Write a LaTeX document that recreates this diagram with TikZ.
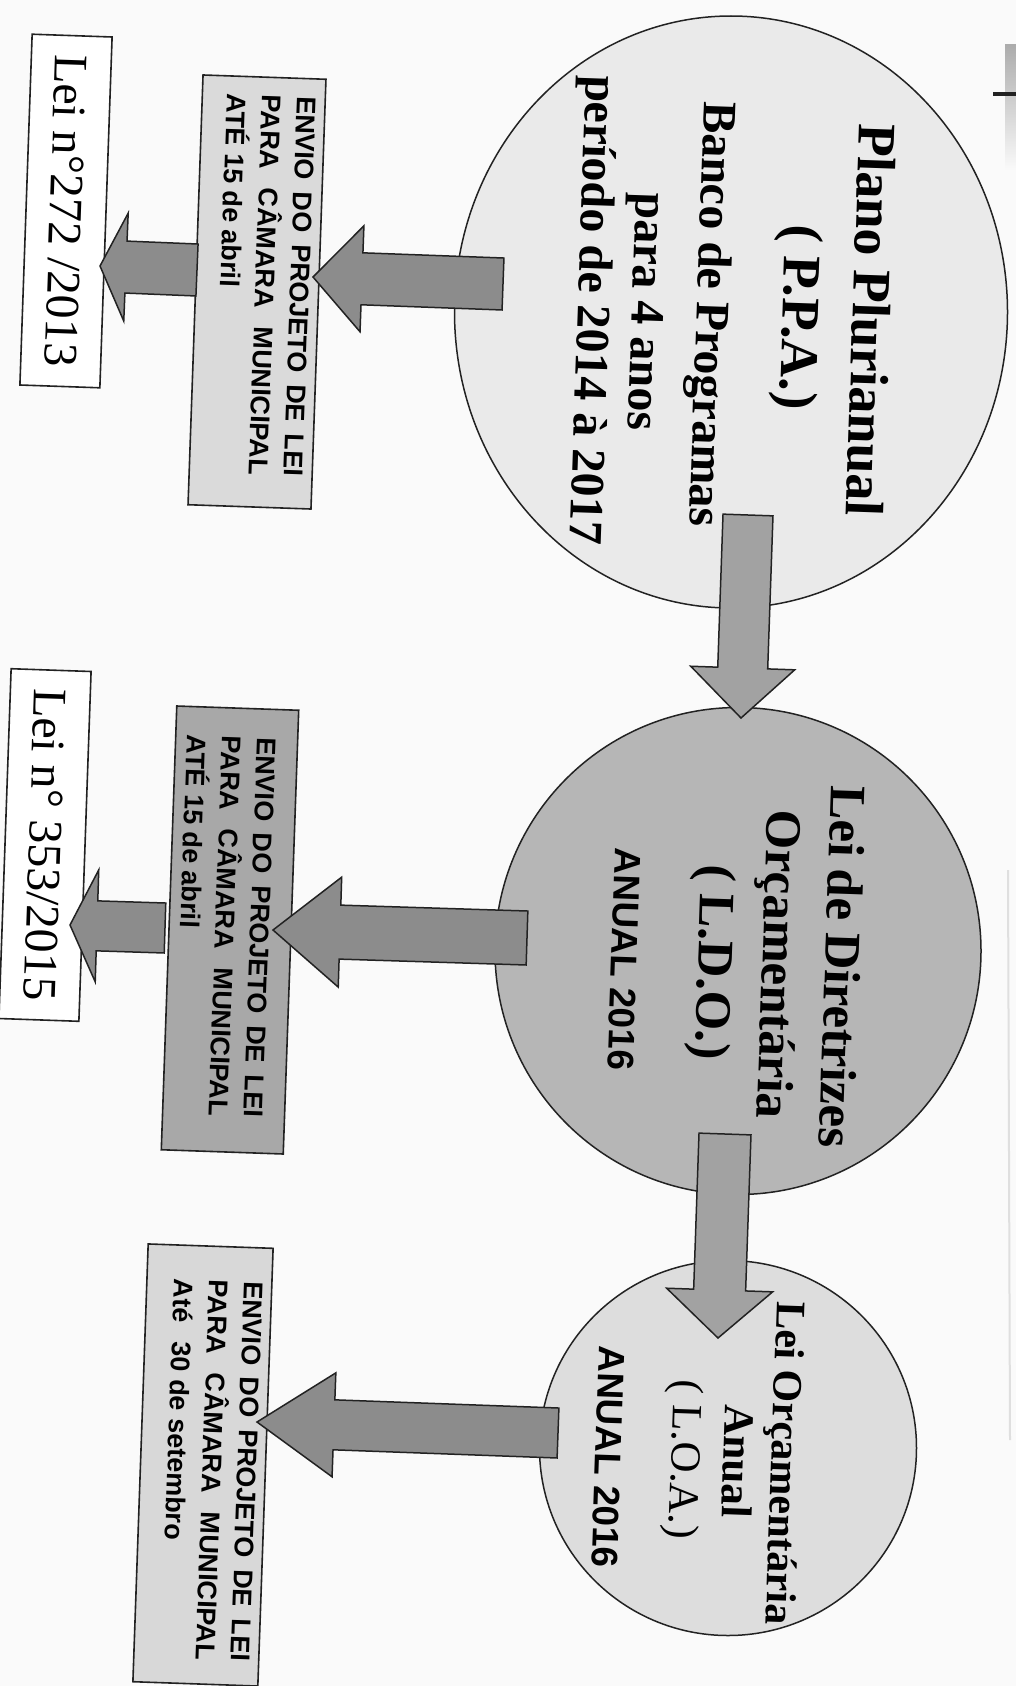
\documentclass[tikz,border=0pt]{standalone}
\usepackage{fontspec}
\setmainfont{Liberation Serif}
\setsansfont{Liberation Sans}
\usetikzlibrary{shapes.geometric,calc}
\definecolor{bgc}{HTML}{FAFAFA}
\definecolor{cOne}{HTML}{EAEAEA}
\definecolor{cTwo}{HTML}{B6B6B6}
\definecolor{cThree}{HTML}{DDDDDD}
\definecolor{bOne}{HTML}{DADADA}
\definecolor{bTwo}{HTML}{A8A8A8}
\definecolor{bThree}{HTML}{D8D8D8}
\definecolor{aDark}{HTML}{8C8C8C}
\definecolor{aMid}{HTML}{A2A2A2}
\definecolor{edgec}{HTML}{222222}
\tikzset{
  circ/.style={ellipse, draw=edgec, line width=1.5pt, inner sep=0pt},
  rbox/.style={rectangle, draw=edgec, line width=1.6pt, inner sep=0pt, rotate=-92},
  boxtxt/.style={rotate=-92, text width=380pt, align=justify, inner sep=0pt,
    font=\sffamily\bfseries\fontsize{27}{35}\selectfont},
  leitxt/.style={font=\fontsize{48}{56}\selectfont},
  circtxt/.style={rotate=-92, align=center, inner sep=0pt},
  blockarrow/.style={draw=edgec, line width=1.5pt, line join=miter}
}
\newcommand\blkarrow[6]{%
  \path ($(#2)!#5!(#1)$) coordinate (hb);
  \draw[blockarrow, fill=#6]
    ($(#1)!#3!90:(#2)$) -- ($(hb)!#3!-90:(#1)$) -- ($(hb)!#4!-90:(#1)$) -- (#2)
    -- ($(hb)!#4!90:(#1)$) -- ($(hb)!#3!90:(#1)$) -- ($(#1)!#3!-90:(#2)$) -- cycle;
}
\begin{document}
\begin{tikzpicture}[x=1pt,y=-1pt]
\useasboundingbox (0,0) rectangle (1016,1686);
\fill[bgc] (0,0) rectangle (1016,1686);
% scan artefacts at the right edge
\shade[top color=gray!65, bottom color=bgc] (1005,45) rectangle (1016,170);
\draw[line width=4pt, edgec] (993,94) -- (1016,94);
\draw[gray!25, line width=2pt] (1008,870) -- (1010,1440);

% circles
\node[circ, fill=cOne, minimum width=553pt, minimum height=592pt] (ppa) at (731,312) {};
\node[circ, fill=cTwo, minimum width=486pt, minimum height=487pt] (ldo) at (738,951) {};
\node[circ, fill=cThree, minimum width=377pt, minimum height=375pt] (loa) at (728,1448) {};

\node[circtxt, font=\bfseries\fontsize{48}{56}\selectfont] (ppatxt) at (729,315)
  {{\fontsize{54}{56}\selectfont Plano Plurianual}\\[14pt]{\fontsize{54}{56}\selectfont ( P.P.A.)}\\[30pt]
   Banco de Programas\\[9pt]para 4 anos\\[-2pt]período de 2014 à 2017};
\node[circtxt, font=\bfseries\fontsize{51}{61}\selectfont] (ldotxt) at (736,963)
  {Lei de Diretrizes\\[2pt]Orçamentária\\[3pt]( L.D.O.)\\[26pt]{\sffamily\fontsize{37}{61}\selectfont ANUAL 2016}};
\node[circtxt, font=\bfseries\fontsize{42}{46}\selectfont] (loatxt) at (698,1460)
  {Lei Orçamentária\\[2pt]{\fontsize{43}{46}\selectfont Anual}\\[6pt]{\mdseries\fontsize{43}{46}\selectfont ( L.O.A.)}\\[30pt]{\sffamily\fontsize{37}{46}\selectfont ANUAL 2016}};

% boxes
\node[rbox, fill=bOne, minimum width=430pt, minimum height=123pt] (env1) at (257,292) {};
\node[boxtxt] (env1t) at (265,285) {\spaceskip=0.28em plus 2em\tolerance=10000 ENVIO DO PROJETO DE LEI\linebreak PARA CÂMARA MUNICIPAL\linebreak ATÉ 15 de abril};
\node[rbox, fill=bTwo, minimum width=444pt, minimum height=122pt] (env2) at (230,930) {};
\node[boxtxt] (env2t) at (225,926) {\spaceskip=0.28em plus 2em\tolerance=10000 ENVIO DO PROJETO DE LEI\linebreak PARA CÂMARA MUNICIPAL\linebreak ATÉ 15 de abril};
\node[rbox, fill=bThree, minimum width=438pt, minimum height=125pt] (env3) at (203,1465) {};
\node[boxtxt] (env3t) at (212,1470) {\spaceskip=0.28em plus 2em\tolerance=10000 ENVIO DO PROJETO DE LEI\linebreak PARA CÂMARA MUNICIPAL\linebreak Até\hspace{12pt} 30 de setembro};

\node[rbox, fill=white, minimum width=351pt, minimum height=80pt, leitxt] (lei1) at (66,211) {Lei n°272 /2013};
\node[rbox, fill=white, minimum width=350pt, minimum height=80pt, leitxt] (lei2) at (45,845) {Lei n° 353/2015};

% arrows
\coordinate (aAs) at (503,284); \coordinate (aAt) at (313,277);
\blkarrow{aAs}{aAt}{26pt}{53pt}{49pt}{aDark}
\coordinate (aBs) at (197,270); \coordinate (aBt) at (100,266);
\blkarrow{aBs}{aBt}{26pt}{54pt}{26pt}{aDark}
\coordinate (aCs) at (748,515); \coordinate (aCt) at (741,718);
\blkarrow{aCs}{aCt}{25pt}{52pt}{50pt}{aMid}
\coordinate (aDs) at (527,938); \coordinate (aDt) at (273,930);
\blkarrow{aDs}{aDt}{27pt}{55pt}{67pt}{aDark}
\coordinate (aEs) at (165,928); \coordinate (aEt) at (70,925);
\blkarrow{aEs}{aEt}{25pt}{56pt}{27pt}{aDark}
\coordinate (aFs) at (725,1134); \coordinate (aFt) at (718,1338);
\blkarrow{aFs}{aFt}{26pt}{53pt}{48pt}{aMid}
\coordinate (aGs) at (558,1433); \coordinate (aGt) at (257,1422);
\blkarrow{aGs}{aGt}{25pt}{52pt}{77pt}{aDark}
\end{tikzpicture}
\end{document}
